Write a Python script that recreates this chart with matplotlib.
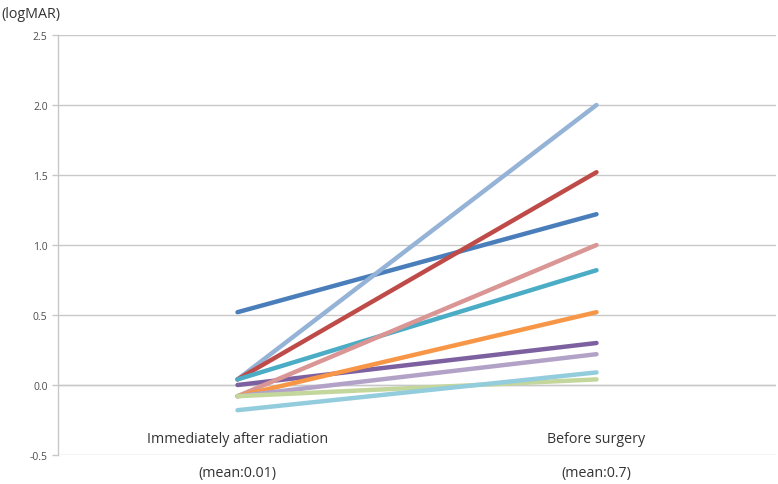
import matplotlib
matplotlib.use("Agg")
import matplotlib.pyplot as plt

plt.rcParams['font.family'] = ['Open Sans', 'DejaVu Sans']

categories = ["Immediately after radiation", "Before surgery"]
mean_labels = ["(mean:0.01)", "(mean:0.7)"]
y_ticks = [-0.5, 0.0, 0.5, 1.0, 1.5, 2.0, 2.5]
y_ticklabels = ["-0.5", "0.0", "0.5", "1.0", "1.5", "2.0", "2.5"]

series_before_rt = [0.52, 0.04, 0.04, 0.04, 0.00, -0.08, -0.08, -0.08, -0.08, -0.18]
series_before_surg = [1.22, 2.00, 1.52, 0.82, 0.30, 1.00, 0.52, 0.22, 0.04, 0.09]
colors = ["#4A7EBB", "#95B3D7", "#BE4B48", "#4BACC6", "#7D60A0",
          "#D99694", "#F79646", "#B3A2C7", "#C3D69B", "#93CDDD"]

W, H = 778, 485
fig = plt.figure(figsize=(W / 100, H / 100), dpi=100)
ax = fig.add_axes([58 / W, (H - 456) / H, (776 - 58) / W, (456 - 36) / H])

xs = [0, 1]
for a, b, c in zip(series_before_rt, series_before_surg, colors):
    ax.plot(xs, [a, b], color=c, lw=3.2, solid_capstyle='round', zorder=3)

ax.set_xlim(-0.5, 1.5)
ax.set_ylim(-0.5, 2.5)
ax.set_yticks(y_ticks)
ax.set_yticklabels(y_ticklabels)
ax.yaxis.grid(True, color="#C8C8C8", lw=1.0)
ax.set_axisbelow(True)
for s in ["top", "right", "bottom"]:
    ax.spines[s].set_visible(False)
ax.spines["left"].set_color("#C8C8C8")
ax.spines["left"].set_linewidth(1.0)
ax.tick_params(axis='y', colors="#C8C8C8", labelcolor="#4D4D4D", labelsize=7.5, length=4, width=1)
ax.set_xticks([])
ax.axhline(0, color="#C8C8C8", lw=1.0, zorder=1)

for x, lab, m in zip(xs, categories, mean_labels):
    ax.text(x, -0.38, lab, ha='center', va='center', fontsize=10.3, color="#333333")
    fig.text((58 + (x + 0.5) * 359) / W, 1 - 474 / H, m, ha='center', va='center',
             fontsize=10.3, color="#333333")

fig.text(1 / W, 1 - 15 / H, "(logMAR)", ha='left', va='center', fontsize=10.3, color="#333333")

fig.savefig("out.png", dpi=100, facecolor="white")
